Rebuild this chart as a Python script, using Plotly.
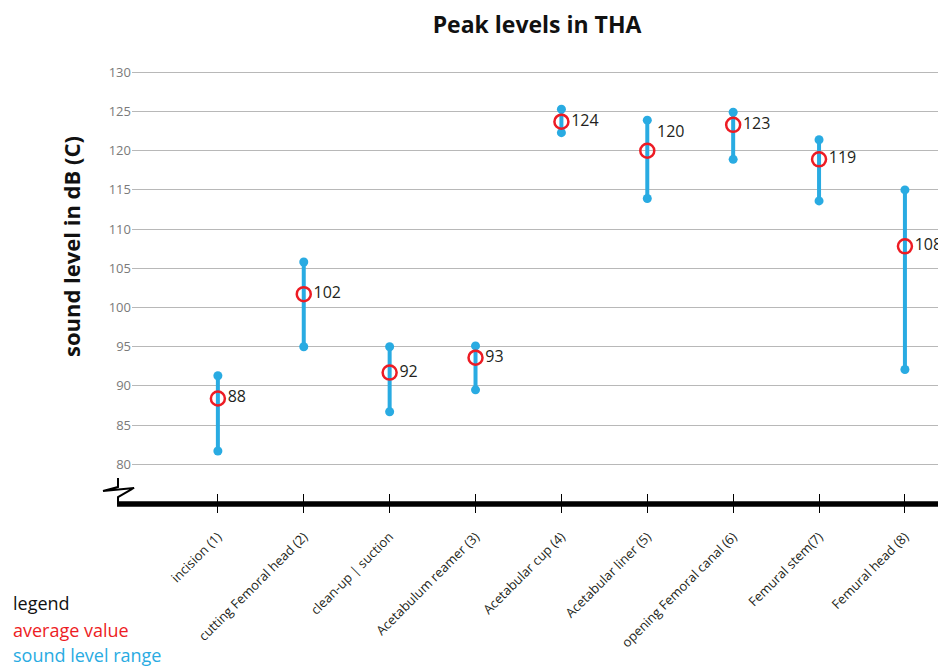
import plotly.graph_objects as go

categories = ["incision (1)", "cutting Femoral head (2)", "clean-up | suction",
              "Acetabulum reamer (3)", "Acetabular cup (4)", "Acetabular liner (5)",
              "opening Femoral canal (6)", "Femural stem(7)", "Femural head (8)"]
range_low = [81.7, 95.0, 86.7, 89.5, 122.3, 113.9, 118.9, 113.6, 92.1]
range_high = [91.3, 105.8, 95.0, 95.1, 125.3, 123.9, 124.9, 121.4, 115.0]
average = [88.4, 101.7, 91.7, 93.6, 123.7, 120.0, 123.3, 118.9, 107.8]
avg_labels = ["88", "102", "92", "93", "124", "120", "123", "119", "108"]
label_pos = ["middle right"] * 9
label_pos[5] = "top right"
y_ticks = [80, 85, 90, 95, 100, 105, 110, 115, 120, 125, 130]

BLUE = "#29ABE2"
RED = "#ED1C24"
FONT = "Open Sans"

seg_x, seg_y = [], []
for c, lo, hi in zip(categories, range_low, range_high):
    seg_x += [c, c, None]
    seg_y += [lo, hi, None]

fig = go.Figure()
fig.add_trace(go.Scatter(
    x=seg_x, y=seg_y, mode="lines+markers",
    line=dict(color=BLUE, width=4),
    marker=dict(color=BLUE, size=9),
    hoverinfo="skip", showlegend=False))
fig.add_trace(go.Scatter(
    x=categories, y=average, mode="markers+text",
    marker=dict(symbol="circle-open", color=RED, size=14, line=dict(width=2.5, color=RED)),
    text=avg_labels, textposition=label_pos,
    textfont=dict(family=FONT, size=16, color="#231F20"),
    cliponaxis=False, showlegend=False))
# invisible trace for the upward tick axis
fig.add_trace(go.Scatter(
    x=categories, y=average, xaxis="x2", mode="markers",
    marker=dict(opacity=0), hoverinfo="skip", showlegend=False))

xr = [-1.0, 8.42]
fig.update_layout(
    width=938, height=658,
    margin=dict(l=124, r=5, t=56, b=162, autoexpand=False),
    paper_bgcolor="white", plot_bgcolor="white",
    title=dict(text="<b>Peak levels in THA</b>", x=0.564, xanchor="center", y=0.974, yanchor="middle",
               font=dict(family=FONT, size=23, color="#111"), automargin=False),
    xaxis=dict(type="category", range=xr, showgrid=False, zeroline=False, showline=False,
               automargin=False,
               ticks="outside", ticklen=8, tickwidth=1, tickcolor="black",
               ticklabelstandoff=11,
               tickangle=-45, tickfont=dict(family=FONT, size=13, color="#231F20")),
    xaxis2=dict(type="category", overlaying="x", side="top", anchor="free", position=0,
                range=xr, showgrid=False, zeroline=False, showline=False, automargin=False,
                ticks="outside", ticklen=10, tickwidth=1, tickcolor="black",
                showticklabels=False),
    yaxis=dict(range=[74.94, 131.06], tickvals=y_ticks, showgrid=True, automargin=False,
               gridcolor="#b8b8b8", gridwidth=1.3, zeroline=False, showline=False,
               ticks="", tickfont=dict(family=FONT, size=13, color="#7a7a7a")),
    shapes=[
        dict(type="line", xref="paper", yref="paper", x0=-0.0185, x1=1.0, y0=0, y1=0,
             line=dict(color="black", width=5.5)),
        dict(type="path", xref="paper", yref="paper",
             path="M -0.0173 0.0591 L -0.0173 0.0386 L -0.0358 0.0295 L 0.0025 0.0364 L -0.0173 0.0159 L -0.0173 0",
             line=dict(color="black", width=2)),
    ],
    annotations=[
        dict(text="<b>sound level in dB (C)</b>", textangle=-90, xref="paper", yref="paper",
             x=-0.0754, y=0.584, xanchor="center", yanchor="middle", showarrow=False,
             font=dict(family=FONT, size=22, color="#111")),
        dict(text="legend", xref="paper", yref="paper", x=-0.149, y=-0.225, xanchor="left", yanchor="middle",
             showarrow=False, font=dict(family=FONT, size=18, color="#111")),
        dict(text="average value", xref="paper", yref="paper", x=-0.149, y=-0.286, xanchor="left", yanchor="middle",
             showarrow=False, font=dict(family=FONT, size=18, color=RED)),
        dict(text="sound level range", xref="paper", yref="paper", x=-0.149, y=-0.343, xanchor="left", yanchor="middle",
             showarrow=False, font=dict(family=FONT, size=18, color=BLUE)),
    ],
)
fig.write_html("out.html")
